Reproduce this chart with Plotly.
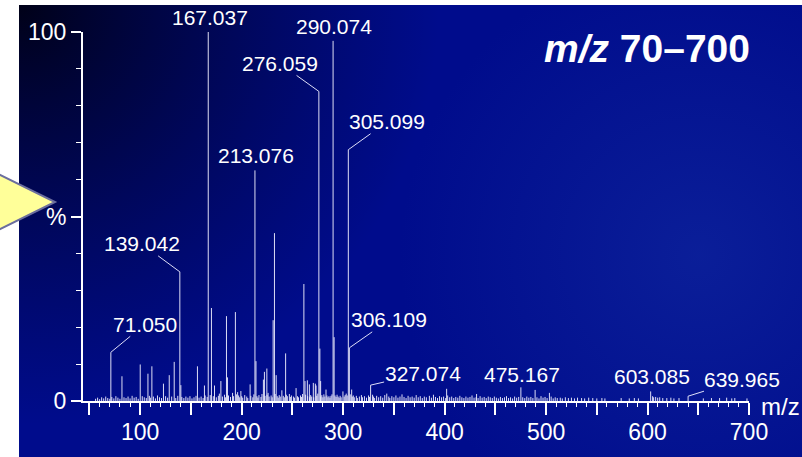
import base64
import plotly.graph_objects as go

# ---------------- data ----------------
labeled_mz = [71.050, 139.042, 167.037, 213.076, 276.059, 290.074,
              305.099, 306.109, 327.074, 475.167, 603.085, 639.965]
labeled_pct = [13.2, 35.0, 100.0, 62.5, 83.9, 97.6,
               68.1, 14.4, 4.3, 3.7, 2.6, 1.3]
labeled_text = ["71.050", "139.042", "167.037", "213.076", "276.059", "290.074",
                "305.099", "306.109", "327.074", "475.167", "603.085", "639.965"]

minor_mz = [82.0, 100.0, 107.6, 111.5, 122.9, 128.6, 133.5, 140.04, 156.4, 163.3,
            170.2, 173.2, 179.5, 185.0, 186.0, 193.8, 199.2, 208.3, 214.08, 221.4,
            222.4, 224.8, 231.0, 232.3, 234.0, 239.6, 243.3, 253.6, 261.3, 262.4,
            264.7, 266.7, 270.6, 272.6, 273.3, 277.06, 277.8, 283.1, 291.08, 299.8,
            308.4, 402.0, 431.5, 489.2, 503.3]
minor_pct = [6.7, 9.9, 7.4, 9.4, 4.7, 7.0, 10.6, 4.3, 9.4, 4.2,
             25.2, 4.2, 5.4, 23.0, 6.4, 24.1, 2.7, 4.5, 10.8, 5.8,
             7.9, 8.8, 21.9, 45.5, 7.0, 2.9, 12.9, 3.5, 31.7, 5.4,
             5.6, 4.5, 4.9, 4.7, 4.2, 14.2, 5.4, 3.1, 17.3, 2.6,
             3.1, 3.3, 1.9, 3.0, 2.2]

noise_mz = [56, 58, 60, 62, 64, 66, 68, 70, 72, 74,
            76, 78, 80, 84, 86, 88, 90, 92, 94, 96,
            98, 102, 104, 106, 109, 110, 113, 115, 117, 119,
            121, 125, 127, 131, 135, 137, 141, 143, 145, 147,
            149, 151, 153, 155, 158, 160, 162, 164, 166, 169,
            172, 175,
            177, 178, 181, 183, 184, 187, 189, 191, 192, 195,
            196, 197, 198, 200, 201, 203, 205, 206, 209, 211,
            212, 215, 216, 217, 219, 220, 223, 225, 226, 227,
            229, 230, 233, 235, 236, 237, 238, 241, 242, 244,
            245, 247, 248, 249, 251, 252, 255, 256, 258, 259,
            260, 263, 265, 267, 268, 269, 271, 274, 275, 278,
            279, 280, 281, 282, 284, 285, 286, 287, 288, 289,
            292, 293, 294, 295, 296, 297, 298, 301, 302, 303,
            304, 307, 309, 310,
            311, 313, 314, 316, 318, 319, 321, 323, 325, 326,
            329, 330, 331, 333, 335, 337, 339, 341, 343, 345,
            346, 348, 350, 352, 354, 356, 358, 360, 362, 364,
            366, 368, 370, 372, 374, 376, 378, 380, 382, 385,
            387, 389, 391, 393, 395, 397, 399, 401, 403, 405,
            407, 409, 411, 413, 415, 417, 419, 421, 423, 425,
            427, 429, 431, 433, 435, 437, 439, 441, 443,
            445, 447, 449, 451, 453, 455, 457, 459, 461, 463,
            465, 467, 469, 471, 473, 477, 479, 481, 483, 485,
            487, 491, 493, 495, 497, 499, 501, 505, 507, 509,
            511, 514, 516, 519, 522, 525, 528, 531, 535, 538,
            542, 546, 550, 555, 558,
            574, 582, 587, 591, 605, 606, 608, 610, 612, 615,
            619, 623, 626, 631, 655, 663, 671, 678, 683, 686, 698]
noise_pct = [0.6, 0.9, 0.5, 1.0, 0.7, 1.2, 0.8, 0.6, 1.1, 0.7,
             1.3, 0.9, 0.6, 1.0, 0.8, 1.2, 0.7, 1.4, 0.9, 1.1,
             0.6, 1.3, 1.0, 0.8, 1.4, 0.9, 1.2, 0.7, 1.5, 1.0,
             0.8, 1.3, 0.9, 1.2, 0.8, 1.4, 1.1, 0.8, 1.2, 0.9,
             1.3, 0.7, 1.0, 1.4, 0.9, 1.2, 0.8, 1.5, 1.1, 1.6,
             1.3, 1.0,
             1.4, 2.0, 1.2, 1.7, 1.0, 1.5, 1.1, 2.2, 1.3, 1.8,
             2.4, 1.5, 1.0, 1.3, 0.9, 1.6, 1.2, 0.8, 1.4, 1.0,
             1.8, 1.3, 0.9, 1.6, 1.1, 1.9, 1.4, 1.7, 2.2, 1.2,
             1.5, 1.0, 1.9, 1.3, 0.9, 1.6, 1.2, 1.4, 1.0, 1.7,
             1.3, 1.9, 1.1, 1.5, 1.2, 0.9, 1.3, 1.0, 1.5, 1.1,
             1.9, 1.7, 1.3, 1.0, 1.6, 1.2, 1.0, 1.4, 2.0, 1.2,
             1.6, 1.0, 1.8, 1.2, 1.5, 1.0, 1.3, 0.9, 1.4, 1.8,
             1.5, 1.1, 1.7, 1.2, 0.9, 1.4, 1.0, 1.2, 1.6, 2.0,
             1.5, 1.8, 1.2, 1.5,
             1.0, 1.4, 0.8, 1.2, 1.6, 1.0, 1.3, 0.9, 1.5, 1.1,
             1.7, 1.2, 0.8, 1.4, 1.0, 1.3, 0.9, 1.6, 2.0, 1.2,
             0.8, 1.3, 1.0, 1.5, 0.9, 1.2, 1.8, 1.1, 0.8, 1.4,
             1.0, 1.2, 0.9, 1.6, 1.0, 1.3, 0.8, 1.2, 1.0, 1.4,
             0.9, 1.7, 1.1, 0.8, 1.3, 1.0, 1.2, 0.8, 1.5, 1.0,
             1.2, 0.8, 1.1, 0.9, 1.4, 1.0, 0.8, 1.2, 0.9, 1.1,
             1.5, 0.9, 1.0, 0.8, 1.3, 0.9, 1.1, 0.8, 1.2,
             1.0, 0.8, 1.2, 0.9, 0.7, 1.1, 0.8, 1.0, 1.3, 0.8,
             1.0, 0.7, 1.2, 0.9, 1.1, 1.0, 0.8, 1.2, 0.9, 1.1,
             0.8, 1.0, 0.7, 1.3, 0.9, 1.1, 0.8, 1.2, 0.7, 1.0,
             0.8, 0.9, 0.7, 1.0, 0.8, 0.9, 0.7, 0.9, 0.8, 0.7,
             0.9, 0.8, 0.7, 0.8, 0.7,
             0.8, 0.7, 0.8, 0.7, 1.3, 1.0, 1.1, 0.9, 1.0, 0.8,
             0.8, 0.9, 0.7, 0.8, 0.7, 0.8, 0.8, 0.9, 0.7, 0.8, 0.7]

x_tickvals = [50, 100, 150, 200, 250, 300, 350, 400, 450, 500, 550, 600, 650, 700]
x_ticktext = ["", "100", "", "200", "", "300", "", "400", "", "500", "", "600", "", "700"]
y_tickvals = [0, 50, 100]
y_ticktext = ["0", "%", "100"]

# label placement (pixel offsets of text centre from peak top, leader line?)
label_style = {
    "71.050": (34, -28, True), "139.042": (-38, -28, True),
    "167.037": (2, -15, False), "213.076": (1, -15, False),
    "276.059": (-39, -28, True), "290.074": (1, -14, False),
    "305.099": (39, -28, True), "306.109": (40, -28, True),
    "327.074": (52, -12, True), "475.167": (1, -13, False),
    "603.085": (1, -15, False), "639.965": (54, -17, True),
}

# ---------------- geometry ----------------
FIG_W, FIG_H = 802, 457
L, T, W, H = 83, 32, 666, 369
FONT = "Liberation Sans, Arial, sans-serif"


def pxx(p):
    return (p - L) / W


def pxy(p):
    return (T + H - p) / H


# ---------------- stick spectrum ----------------
all_mz = list(noise_mz) + list(minor_mz) + list(labeled_mz)
all_pct = list(noise_pct) + list(minor_pct) + list(labeled_pct)
xs, ys = [], []
for m, p in zip(all_mz, all_pct):
    xs += [m, m, None]
    ys += [0, p, None]

fig = go.Figure()
fig.add_trace(go.Scatter(x=xs, y=ys, mode="lines",
                         line=dict(color="rgba(240,240,255,0.92)", width=1),
                         hoverinfo="skip", showlegend=False))

# ---------------- labels ----------------
annotations = []
for txt, m, p in zip(labeled_text, labeled_mz, labeled_pct):
    ax, ay, leader = label_style[txt]
    annotations.append(dict(
        x=m, y=p, xref="x", yref="y", text=txt, showarrow=True,
        ax=ax, ay=ay, arrowhead=0, arrowwidth=1, standoff=0,
        arrowcolor="rgba(235,235,255,0.95)" if leader else "rgba(0,0,0,0)",
        font=dict(family=FONT, size=21, color="white"), borderpad=0))

annotations.append(dict(
    x=pxx(647), y=pxy(48), xref="paper", yref="paper",
    text="<b><i>m/z</i> 70–700</b>", showarrow=False,
    xanchor="center", yanchor="middle",
    font=dict(family=FONT, size=39, color="white")))
annotations.append(dict(
    x=pxx(759), y=pxy(406), xref="paper", yref="paper",
    text="m/z", showarrow=False, xanchor="left", yanchor="middle",
    font=dict(family=FONT, size=24, color="white")))

# ---------------- background ----------------
bw, bh = 790, 462
svg = f'''<svg xmlns="http://www.w3.org/2000/svg" width="{bw}" height="{bh}" viewBox="0 0 {bw} {bh}" preserveAspectRatio="none">
<defs>
<radialGradient id="a" cx="0" cy="0" r="420" gradientUnits="userSpaceOnUse">
<stop offset="0" stop-color="#000118"/>
<stop offset="0.35" stop-color="#000330" stop-opacity="0.75"/>
<stop offset="1" stop-color="#000340" stop-opacity="0"/>
</radialGradient>
<radialGradient id="b" cx="680" cy="250" r="300" gradientUnits="userSpaceOnUse">
<stop offset="0" stop-color="#1e40b0" stop-opacity="0.35"/>
<stop offset="1" stop-color="#1e40b0" stop-opacity="0"/>
</radialGradient>
</defs>
<rect width="{bw}" height="{bh}" fill="#000c8c"/>
<rect width="{bw}" height="{bh}" fill="url(#a)"/>
<rect width="{bw}" height="{bh}" fill="url(#b)"/>
</svg>'''
src = "data:image/svg+xml;base64," + base64.b64encode(svg.encode()).decode()

images = [dict(source=src, xref="paper", yref="paper", x=pxx(19), y=pxy(5),
               sizex=bw / W, sizey=bh / H, xanchor="left", yanchor="top",
               sizing="stretch", layer="below")]

shapes = [dict(type="path", xref="paper", yref="paper",
               path=f"M {pxx(-4)},{pxy(173)} L {pxx(55)},{pxy(202)} L {pxx(-4)},{pxy(231)} Z",
               fillcolor="#ffff99", line=dict(color="#6b6e9e", width=2), layer="above")]

axis_common = dict(showgrid=False, zeroline=False, showline=True, linecolor="white",
                   linewidth=2, ticks="outside", tickcolor="white",
                   tickfont=dict(family=FONT, size=23, color="white"))

fig.update_layout(
    width=FIG_W, height=FIG_H,
    margin=dict(l=L, r=FIG_W - L - W, t=T, b=FIG_H - T - H, pad=0),
    paper_bgcolor="white", plot_bgcolor="rgba(0,0,0,0)",
    xaxis=dict(range=[43.6, 700], tickmode="array", tickvals=x_tickvals,
               ticktext=x_ticktext, ticklen=12, tickwidth=1.5,
               ticklabelstandoff=-3,
               minor=dict(dtick=10, tick0=0, ticklen=4, tickcolor="white",
                          tickwidth=1, ticks="outside"),
               **axis_common),
    yaxis=dict(range=[0, 100], tickmode="array", tickvals=y_tickvals,
               ticktext=y_ticktext, ticklen=10, tickwidth=1.5,
               minor=dict(dtick=10, tick0=0, ticklen=5, tickcolor="white",
                          tickwidth=1, ticks="outside"),
               **axis_common),
    annotations=annotations, images=images, shapes=shapes,
    showlegend=False,
)

fig.write_html("out.html")
